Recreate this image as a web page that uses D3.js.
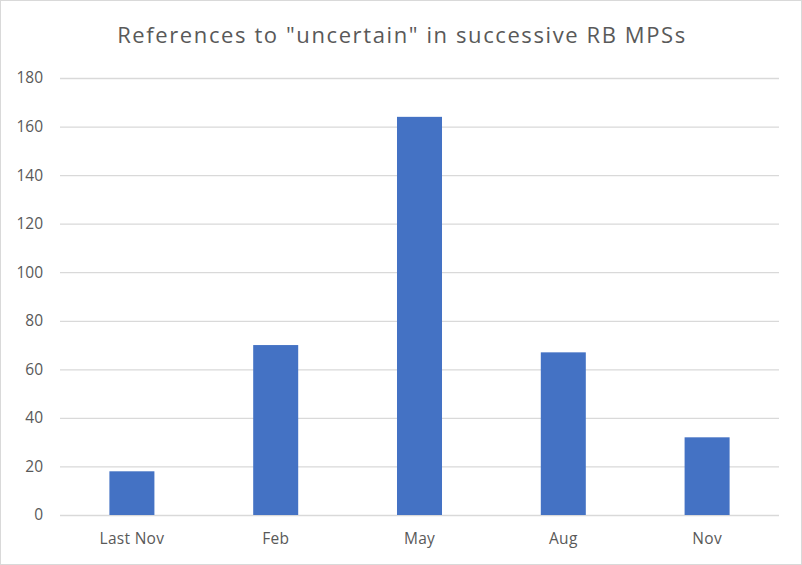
<!DOCTYPE html>
<html><head><meta charset="utf-8">
<script src="https://cdn.jsdelivr.net/npm/d3@7"></script>
<style>body{margin:0;background:#fff}svg{display:block}</style>
</head><body>
<svg id="c" width="802" height="565"></svg>
<script>
const categories = ["Last Nov", "Feb", "May", "Aug", "Nov"];
const values = [18, 70, 164, 67, 32];
const yTicks = [0, 20, 40, 60, 80, 100, 120, 140, 160, 180];
const title = 'References to "uncertain" in successive RB MPSs';

const W = 802, H = 565;
const m = {left: 60, right: 23, top: 78, bottom: 50};
const svg = d3.select("#c");
const font = "'Open Sans', 'Liberation Sans', sans-serif";

svg.append("rect").attr("x", 0.5).attr("y", 0.5).attr("width", W - 1).attr("height", H - 1)
  .attr("fill", "#fff").attr("stroke", "#d9d9d9");

const x = d3.scaleBand().domain(categories).range([m.left, W - m.right]).paddingInner(0.687).paddingOuter(0.3435);
const y = d3.scaleLinear().domain([0, 180]).range([H - m.bottom, m.top]);

const ga = svg.append("g").attr("transform", `translate(${m.left},0)`)
  .call(d3.axisLeft(y).tickValues(yTicks).tickSize(-(W - m.left - m.right)).tickPadding(17));
ga.select(".domain").remove();
ga.selectAll(".tick line").attr("stroke", "#d9d9d9").attr("stroke-width", 1.3);
ga.selectAll(".tick text").attr("fill", "#595959").style("font-family", font).style("font-size", "15.5px");

svg.append("g").selectAll("rect").data(values).join("rect")
  .attr("x", (d, i) => x(categories[i]))
  .attr("width", x.bandwidth())
  .attr("y", d => y(d))
  .attr("height", d => y(0) - y(d))
  .attr("fill", "#4472c4");

const gx = svg.append("g").attr("transform", `translate(0,${H - m.bottom})`)
  .call(d3.axisBottom(x).tickSize(0).tickPadding(18));
gx.select(".domain").remove();
gx.selectAll(".tick text").attr("fill", "#595959").style("font-family", font).style("font-size", "15.5px")
  .style("letter-spacing", "0.3px");

svg.append("text").attr("x", 402).attr("y", 43).attr("text-anchor", "middle")
  .attr("fill", "#595959").style("font-family", font).style("font-size", "22px")
  .style("letter-spacing", "1.6px")
  .text(title);
</script>
</body></html>
